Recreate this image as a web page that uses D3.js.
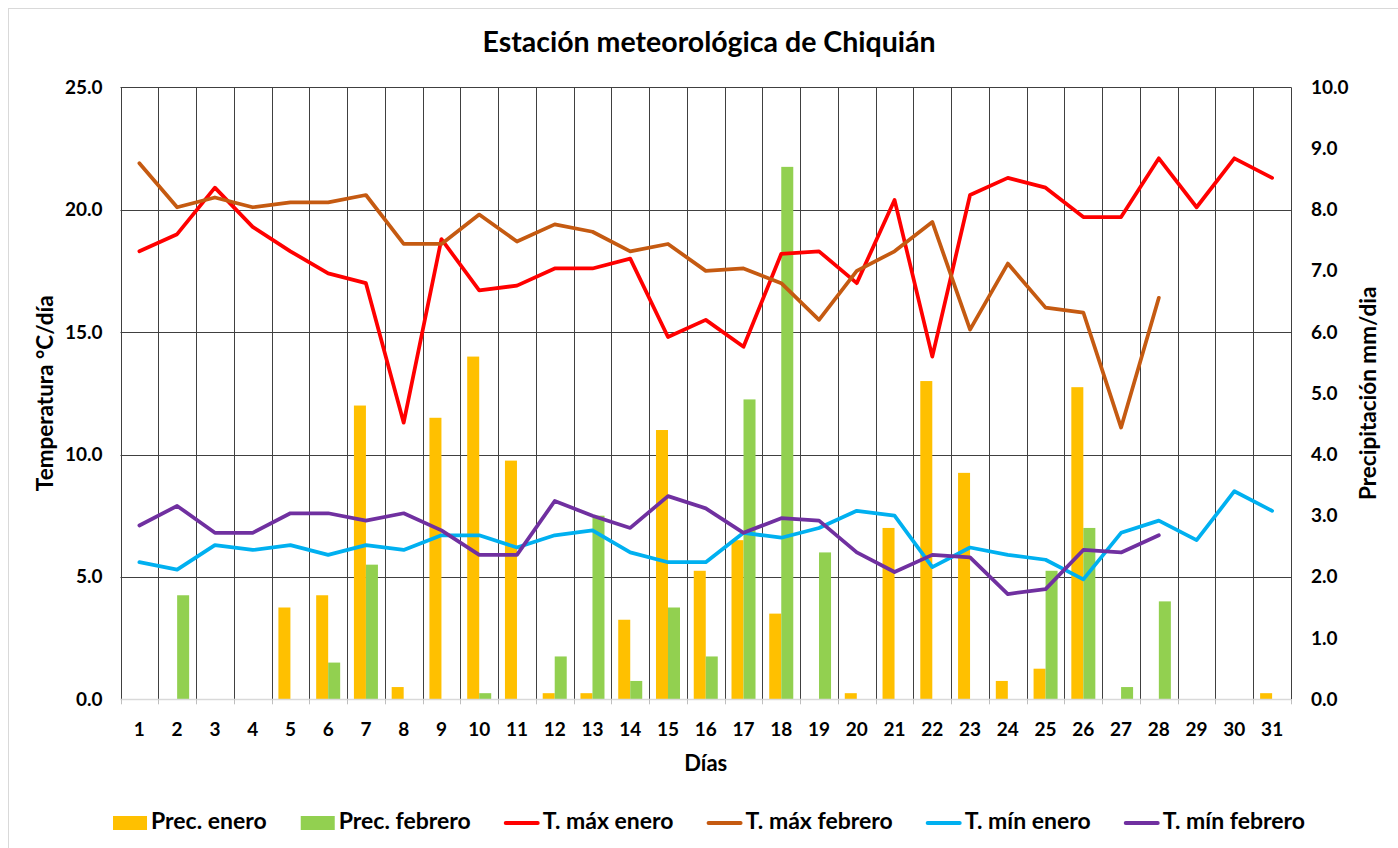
<!DOCTYPE html>
<html>
<head>
<meta charset="utf-8">
<script src="https://cdn.jsdelivr.net/npm/d3@7"></script>
<style>
  body { margin: 0; background: #fff; }
  svg { display: block; font-family: Lato, "Open Sans", sans-serif; font-weight: 700; }
</style>
</head>
<body>
<div id="chart"></div>
<script>
const days = [1,2,3,4,5,6,7,8,9,10,11,12,13,14,15,16,17,18,19,20,21,22,23,24,25,26,27,28,29,30,31];

const precEnero = [0,0,0,0,1.5,1.7,4.8,0.2,4.6,5.6,3.9,0.1,0.1,1.3,4.4,2.1,2.6,1.4,0,0.1,2.8,5.2,3.7,0.3,0.5,5.1,0,0,0,0,0.1];
const precFebrero = [0,1.7,0,0,0,0.6,2.2,0,0,0.1,0,0.7,3.0,0.3,1.5,0.7,4.9,8.7,2.4,0,0,0,0,0,2.1,2.8,0.2,1.6];

const tMaxEnero = [18.3,19.0,20.9,19.3,18.3,17.4,17.0,11.3,18.8,16.7,16.9,17.6,17.6,18.0,14.8,15.5,14.4,18.2,18.3,17.0,20.4,14.0,20.6,21.3,20.9,19.7,19.7,22.1,20.1,22.1,21.3];
const tMaxFebrero = [21.9,20.1,20.5,20.1,20.3,20.3,20.6,18.6,18.6,19.8,18.7,19.4,19.1,18.3,18.6,17.5,17.6,17.0,15.5,17.5,18.3,19.5,15.1,17.8,16.0,15.8,11.1,16.4];
const tMinEnero = [5.6,5.3,6.3,6.1,6.3,5.9,6.3,6.1,6.7,6.7,6.2,6.7,6.9,6.0,5.6,5.6,6.8,6.6,7.0,7.7,7.5,5.4,6.2,5.9,5.7,4.9,6.8,7.3,6.5,8.5,7.7];
const tMinFebrero = [7.1,7.9,6.8,6.8,7.6,7.6,7.3,7.6,6.9,5.9,5.9,8.1,7.5,7.0,8.3,7.8,6.8,7.4,7.3,6.0,5.2,5.9,5.8,4.3,4.5,6.1,6.0,6.7];

const tempTicks = [0,5,10,15,20,25];
const precTicks = [0,1,2,3,4,5,6,7,8,9,10];

const barSeries = [
  { name: "Prec. enero", values: precEnero, color: "#FFC000" },
  { name: "Prec. febrero", values: precFebrero, color: "#92D050" }
];
const lineSeries = [
  { name: "T. máx enero", values: tMaxEnero, color: "#FF0000" },
  { name: "T. máx febrero", values: tMaxFebrero, color: "#C55A11" },
  { name: "T. mín enero", values: tMinEnero, color: "#00B0F0" },
  { name: "T. mín febrero", values: tMinFebrero, color: "#7030A0" }
];

const width = 1398, height = 848;
const plot = { left: 120.5, right: 1291, top: 87.3, bottom: 699.3 };

const svg = d3.select("#chart").append("svg")
  .attr("width", width)
  .attr("height", height);

// chart area border (runs past the right/bottom edge of the frame)
svg.append("rect")
  .attr("x", 8.5).attr("y", 8.5)
  .attr("width", width + 20).attr("height", height + 20)
  .attr("fill", "#fff")
  .attr("stroke", "#d9d9d9");

const x = d3.scaleBand().domain(days).range([plot.left, plot.right]).padding(0);
const bw = x.bandwidth();
const xSub = d3.scaleBand()
  .domain(barSeries.map(d => d.name))
  .range([bw * 0.182, bw * 0.818])
  .padding(0);

const yT = d3.scaleLinear().domain([0, 25]).range([plot.bottom, plot.top]);
const yP = d3.scaleLinear().domain([0, 10]).range([plot.bottom, plot.top]);

// horizontal gridlines
svg.append("g")
  .selectAll("line")
  .data(tempTicks.slice(1))
  .join("line")
  .attr("x1", plot.left).attr("x2", plot.right)
  .attr("y1", d => Math.round(yT(d)) + 0.5)
  .attr("y2", d => Math.round(yT(d)) + 0.5)
  .attr("stroke", "#404040")
  .attr("stroke-width", 1);

// vertical gridlines at category boundaries
const bounds = days.map(d => x(d)).concat([plot.right]);
svg.append("g")
  .selectAll("line")
  .data(bounds)
  .join("line")
  .attr("x1", d => Math.round(d) + 0.5).attr("x2", d => Math.round(d) + 0.5)
  .attr("y1", plot.top).attr("y2", plot.bottom)
  .attr("stroke", "#404040")
  .attr("stroke-width", 1);

// bars
const barG = svg.append("g");
barSeries.forEach(s => {
  barG.append("g")
    .selectAll("rect")
    .data(s.values.map((v, i) => ({ day: days[i], v })))
    .join("rect")
    .attr("x", d => x(d.day) + xSub(s.name))
    .attr("width", xSub.bandwidth())
    .attr("y", d => yP(d.v))
    .attr("height", d => yP(0) - yP(d.v))
    .attr("fill", s.color);
});

// category axis line + ticks
svg.append("line")
  .attr("x1", plot.left).attr("x2", plot.right)
  .attr("y1", Math.round(plot.bottom) + 0.5).attr("y2", Math.round(plot.bottom) + 0.5)
  .attr("stroke", "#d9d9d9").attr("stroke-width", 1.5);
svg.append("g")
  .selectAll("line")
  .data(bounds)
  .join("line")
  .attr("x1", d => Math.round(d) + 0.5).attr("x2", d => Math.round(d) + 0.5)
  .attr("y1", plot.bottom).attr("y2", plot.bottom + 5)
  .attr("stroke", "#bfbfbf");

function styleTicks(g) {
  g.select(".domain").remove();
  g.selectAll("text")
    .attr("fill", "#000")
    .style("font-size", "19px")
    .style("font-family", "Lato, sans-serif")
    .style("font-weight", 700);
}

const gx = svg.append("g")
  .attr("transform", `translate(0,${plot.bottom})`)
  .call(d3.axisBottom(x).tickSize(0).tickPadding(0));
styleTicks(gx);
gx.selectAll("text").attr("y", 30).attr("dy", "0.35em");

// left axis labels
const gl = svg.append("g")
  .attr("transform", `translate(${plot.left},0)`)
  .call(d3.axisLeft(yT).tickValues(tempTicks).tickFormat(d3.format(".1f")).tickSize(0).tickPadding(18));
styleTicks(gl);

// right axis labels
const gr = svg.append("g")
  .attr("transform", `translate(${plot.right},0)`)
  .call(d3.axisRight(yP).tickValues(precTicks).tickFormat(d3.format(".1f")).tickSize(0).tickPadding(20));
styleTicks(gr);

// lines
const line = d3.line()
  .x(d => x(d.day) + bw / 2)
  .y(d => yT(d.v));
lineSeries.forEach(s => {
  svg.append("path")
    .datum(s.values.map((v, i) => ({ day: days[i], v })))
    .attr("d", line)
    .attr("fill", "none")
    .attr("stroke", s.color)
    .attr("stroke-width", 3.75)
    .attr("stroke-linejoin", "round")
    .attr("stroke-linecap", "round");
});

// titles
svg.append("text")
  .attr("x", 709).attr("y", 45)
  .attr("text-anchor", "middle")
  .attr("dominant-baseline", "middle")
  .style("font-size", "28.5px")
  .text("Estación meteorológica de Chiquián");

svg.append("text")
  .attr("x", (plot.left + plot.right) / 2).attr("y", 765)
  .attr("text-anchor", "middle")
  .attr("dominant-baseline", "middle")
  .style("font-size", "22px")
  .text("Días");

svg.append("text")
  .attr("transform", `translate(47,${(plot.top + plot.bottom) / 2}) rotate(-90)`)
  .attr("text-anchor", "middle")
  .attr("dominant-baseline", "middle")
  .style("font-size", "22.5px")
  .text("Temperatura °C/día");

svg.append("text")
  .attr("transform", `translate(1370,${(plot.top + plot.bottom) / 2}) rotate(-90)`)
  .attr("text-anchor", "middle")
  .attr("dominant-baseline", "middle")
  .style("font-size", "22.5px")
  .text("Precipitación mm/dia");

// legend, laid out left to right from measured text widths, centred
const legendItems = barSeries.map(s => ({ ...s, kind: "bar" }))
  .concat(lineSeries.map(s => ({ ...s, kind: "line" })));
const legend = svg.append("g");
const symW = 34, symGap = 4, itemGap = 34, legendY = 823;
let cursor = 0;
legendItems.forEach(item => {
  const g = legend.append("g").attr("transform", `translate(${cursor},0)`);
  if (item.kind === "bar") {
    g.append("rect")
      .attr("x", 0).attr("y", legendY - 7)
      .attr("width", symW).attr("height", 14)
      .attr("fill", item.color);
  } else {
    g.append("line")
      .attr("x1", 1).attr("x2", symW - 1)
      .attr("y1", legendY).attr("y2", legendY)
      .attr("stroke", item.color)
      .attr("stroke-width", 4)
      .attr("stroke-linecap", "round");
  }
  const t = g.append("text")
    .attr("x", symW + symGap).attr("y", legendY)
    .attr("dominant-baseline", "middle")
    .style("font-size", "23px")
    .text(item.name);
  cursor += symW + symGap + t.node().getComputedTextLength() + itemGap;
});
const legendW = cursor - itemGap;
legend.attr("transform", `translate(${709 - legendW / 2},0)`);
</script>
</body>
</html>
